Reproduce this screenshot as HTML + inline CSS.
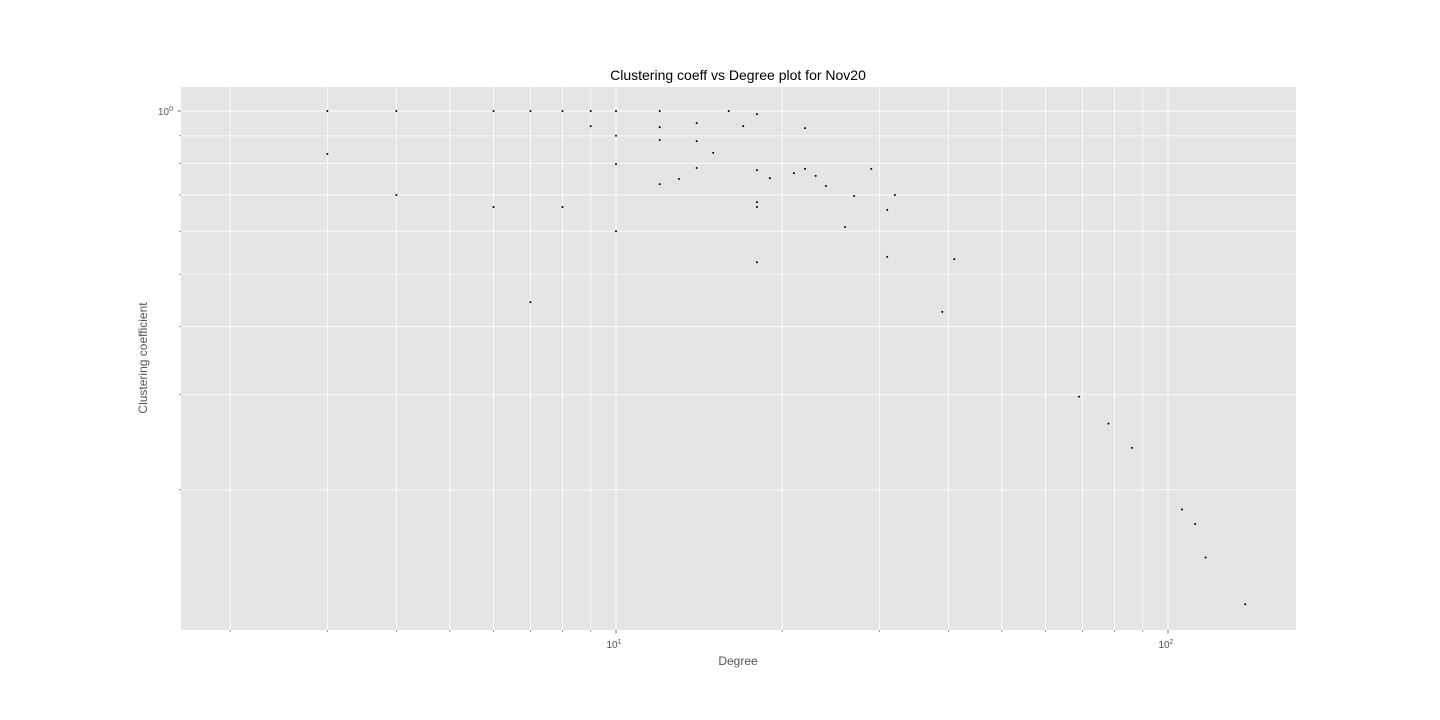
<!DOCTYPE html>
<html><head><meta charset="utf-8"><style>
body{margin:0;background:#fff;}
svg{display:block;font-family:"Liberation Sans","DejaVu Sans",sans-serif;}
</style></head><body>
<svg id="chart" width="1440" height="720" viewBox="0 0 1440 720" xmlns="http://www.w3.org/2000/svg">
<rect x="181" y="87" width="1115" height="543" fill="#E5E5E5"/>
<g id="grid"></g>
<g id="ticks"></g>
<g id="points"></g>
<text x="738" y="80" text-anchor="middle" font-size="14" fill="#000">Clustering coeff vs Degree plot for Nov20</text>
<text x="738" y="665" text-anchor="middle" font-size="12" fill="#555">Degree</text>
<text transform="translate(147,358) rotate(-90)" text-anchor="middle" font-size="12" fill="#555">Clustering coefficient</text>
</svg>
<script>
const degrees=[3,3,4,4,6,6,7,7,8,8,9,9,10,10,10,10,12,12,12,12,13,14,14,14,15,16,17,18,18,18,18,18,19,21,22,22,23,24,26,27,29,31,31,32,39,41,69,78,86,106,112,117,138];
const clustering=[1,0.833,1,0.70,1,0.665,1,0.444,1,0.665,1,0.938,1,0.9,0.798,0.6,1,0.934,0.884,0.733,0.749,0.95,0.88,0.785,0.837,1,0.938,0.987,0.778,0.679,0.665,0.526,0.752,0.768,0.93,0.782,0.759,0.727,0.611,0.697,0.782,0.657,0.538,0.70,0.426,0.533,0.297,0.265,0.239,0.184,0.173,0.150,0.123];
const xMajor=[10,100];
const xMinor=[2,3,4,5,6,7,8,9,20,30,40,50,60,70,80,90];
const yMajor=[1];
const yMinor=[0.2,0.3,0.4,0.5,0.6,0.7,0.8,0.9];
const NS="http://www.w3.org/2000/svg";
const X0=181,X1=1296,Y0=87,Y1=630;
function xs(d){return 616+552*Math.log10(d/10);}
function ys(v){return 111-542*Math.log10(v);}
function mk(tag,attrs,parent){const e=document.createElementNS(NS,tag);for(const k in attrs)e.setAttribute(k,attrs[k]);parent.appendChild(e);return e;}
const grid=document.getElementById('grid'),ticks=document.getElementById('ticks'),pts=document.getElementById('points');
xMinor.forEach(d=>{const x=xs(d);
 const l=mk('line',{x1:x,x2:x,y1:Y0,y2:Y1,stroke:'#fff','stroke-width':0.8},grid);
 
 
 const t=mk('line',{x1:x,x2:x,y1:Y1,y2:Y1+2,stroke:'#555','stroke-width':0.6},ticks);
 
 });
yMinor.forEach(v=>{const y=ys(v);
 const l=mk('line',{x1:X0,x2:X1,y1:y,y2:y,stroke:'#fff','stroke-width':0.8},grid);
 
 
 const t=mk('line',{x1:X0-2,x2:X0,y1:y,y2:y,stroke:'#555','stroke-width':0.6},ticks);
 
 });
xMajor.forEach(d=>{const x=xs(d);
 const l=mk('line',{x1:x,x2:x,y1:Y0,y2:Y1,stroke:'#fff','stroke-width':1},grid);
 
 
 const t=mk('line',{x1:x,x2:x,y1:Y1,y2:Y1+3.5,stroke:'#555','stroke-width':0.8},ticks);
 
 
 const tx=mk('text',{x:x-2,y:648,'text-anchor':'middle','font-size':10,fill:'#555'},ticks);
 
 
 tx.innerHTML='10<tspan dy="-4" font-size="7">'+Math.round(Math.log10(d))+'</tspan>';});
yMajor.forEach(v=>{const y=ys(v);
 const l=mk('line',{x1:X0,x2:X1,y1:y,y2:y,stroke:'#fff','stroke-width':1},grid);
 
 
 const t=mk('line',{x1:X0-3.5,x2:X0,y1:y,y2:y,stroke:'#555','stroke-width':0.8},ticks);
 
 
 const tx=mk('text',{x:X0-8,y:y+4,'text-anchor':'end','font-size':10,fill:'#555'},ticks);
 
 
 tx.innerHTML='10<tspan dy="-4" font-size="7">'+Math.round(Math.log10(v))+'</tspan>';});
degrees.forEach((d,i)=>{
 const c=mk('circle',{cx:xs(d),cy:ys(clustering[i]),r:1,fill:'#000'},pts);
 
 });
</script>
</body></html>
